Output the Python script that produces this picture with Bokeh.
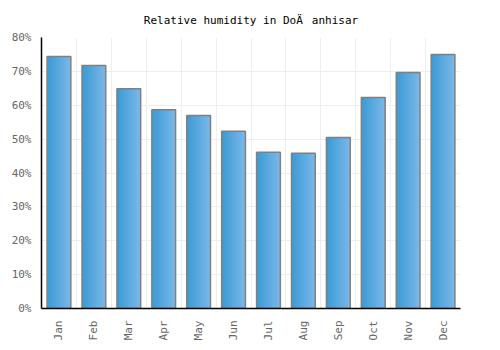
from bokeh.plotting import figure
from bokeh.models import Range1d, FixedTicker
from bokeh.embed import file_html
from bokeh.resources import INLINE
import numpy as np

months = ["Jan", "Feb", "Mar", "Apr", "May", "Jun", "Jul", "Aug", "Sep", "Oct", "Nov", "Dec"]
humidity = [74.4, 71.7, 64.9, 58.7, 57.0, 52.3, 46.1, 45.8, 50.5, 62.3, 69.7, 75.0]
y_ticks = [0, 10, 20, 30, 40, 50, 60, 70, 80]
title = "Relative humidity in Do\u00c4\u009fanhisar"

FONT = "DejaVu Sans Mono"
p = figure(width=500, height=350, output_backend="svg", toolbar_location=None,
           x_range=Range1d(0, len(months)), y_range=Range1d(0, 80),
           min_border_left=41, min_border_right=40, min_border_top=37, min_border_bottom=42)
p.title.text = title
p.title.align = "center"
p.title.text_font = FONT
p.title.text_font_size = "11px"
p.title.text_font_style = "normal"
p.title.text_color = "#000000"
p.title.standoff = 22
p.outline_line_color = None
p.background_fill_color = "white"
p.border_fill_color = "white"

centers = np.arange(len(months)) + 0.5
bar_w = 0.68
N = 16
c0 = np.array([58, 154, 212])
c1 = np.array([124, 184, 234])
right = centers + bar_w / 2
for i in range(N):
    t = (i + 0.5) / N
    col = c0 + (c1 - c0) * t
    colhex = "#%02x%02x%02x" % tuple(int(round(v)) for v in col)
    left = centers - bar_w / 2 + i * bar_w / N
    p.vbar(x=(left + right) / 2, top=humidity, bottom=0, width=right - left,
           fill_color=colhex, line_color=None)
p.vbar(x=centers, top=humidity, bottom=0, width=bar_w, fill_color=None,
       line_color="#808080", line_width=1.5)

p.xgrid.ticker = FixedTicker(ticks=list(range(len(months) + 1)))
p.ygrid.ticker = FixedTicker(ticks=y_ticks)
p.xgrid.grid_line_color = "#eeeeee"
p.ygrid.grid_line_color = "#eeeeee"
p.xgrid.grid_line_width = 1
p.ygrid.grid_line_width = 1

p.xaxis.ticker = FixedTicker(ticks=list(centers))
p.xaxis.major_label_overrides = {float(c): m for c, m in zip(centers, months)}
p.xaxis.major_label_orientation = np.pi / 2
p.yaxis.ticker = FixedTicker(ticks=y_ticks)
p.yaxis.major_label_overrides = {t: f"{t}%" for t in y_ticks}
for ax in (p.xaxis, p.yaxis):
    ax.major_tick_line_color = None
    ax.minor_tick_line_color = None
    ax.axis_line_color = "#000000"
    ax.axis_line_width = 1.5
    ax.major_label_text_font = FONT
    ax.major_label_text_font_size = "11px"
    ax.major_label_text_color = "#666666"
p.yaxis.major_label_standoff = 4
p.xaxis.major_label_standoff = 6

open("out.html", "w").write(file_html(p, INLINE))
